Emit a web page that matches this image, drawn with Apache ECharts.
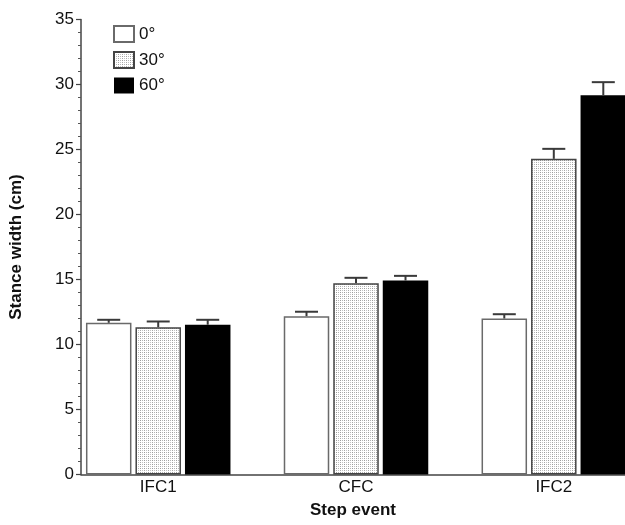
<!DOCTYPE html>
<html><head><meta charset="utf-8">
<script src="https://cdn.jsdelivr.net/npm/echarts@6/dist/echarts.min.js"></script>
<style>html,body{margin:0;padding:0;background:#fff}#c{width:625px;height:525px}</style>
</head><body><div id="c"></div>
<script>
const categories = ['IFC1', 'CFC', 'IFC2'];
const seriesNames = ['0°', '30°', '60°'];
const mean0 = [11.67, 12.18, 12.0];
const mean30 = [11.33, 14.72, 24.28];
const mean60 = [11.52, 14.92, 29.18];
const err0 = [0.23, 0.34, 0.33];
const err30 = [0.44, 0.41, 0.77];
const err60 = [0.38, 0.36, 1.0];
const yTicks = [0, 5, 10, 15, 20, 25, 30, 35];

const FONT = '"Liberation Sans", Arial, Helvetica, sans-serif';
const BAR_W = 45.5, BAR_STEP = 49.5;

function makeDots() {
  const c = document.createElement('canvas');
  c.width = 4; c.height = 4;
  const g = c.getContext('2d');
  g.fillStyle = '#ffffff'; g.fillRect(0, 0, 4, 4);
  g.fillStyle = '#9c9c9c'; g.fillRect(0, 0, 1, 1);
  g.fillStyle = '#b4b4b4'; g.fillRect(2, 0, 1, 1);
  g.fillStyle = '#a8a8a8'; g.fillRect(0, 2, 1, 1);
  g.fillStyle = '#c4c4c4'; g.fillRect(2, 2, 1, 1);
  return c;
}
const dots = { image: makeDots(), repeat: 'repeat' };

const means = [mean0, mean30, mean60];
const errs = [err0, err30, err60];
const styles = [
  { color: '#ffffff', borderColor: '#6a6a6a', borderWidth: 1.5 },
  { color: dots, borderColor: '#444444', borderWidth: 1.5 },
  { color: '#000000', borderColor: '#000000', borderWidth: 0 }
];

const barSeries = seriesNames.map((name, s) => ({
  name: name,
  type: 'bar',
  barWidth: BAR_W,
  barGap: ((BAR_STEP - BAR_W) / BAR_W * 100).toFixed(1) + '%',
  itemStyle: styles[s],
  data: means[s].map((v, i) => [i, v]),
  z: 2
}));

const errData = [];
means.forEach((m, s) => m.forEach((v, i) => errData.push([i, v, errs[s][i], s])));

const errSeries = {
  type: 'custom',
  silent: true,
  z: 3,
  clip: false,
  data: errData,
  renderItem: function (params, api) {
    const x = api.value(0), m = api.value(1), e = api.value(2), s = api.value(3);
    const base = api.coord([x, m]);
    const top = api.coord([x, m + e]);
    const dx = (s - 1) * BAR_STEP;
    const cx = base[0] + dx;
    const st = { stroke: '#3a3a3a', lineWidth: 2 };
    return {
      type: 'group',
      children: [
        { type: 'line', shape: { x1: cx, y1: base[1], x2: cx, y2: top[1] }, style: st },
        { type: 'line', shape: { x1: cx - 11.5, y1: top[1], x2: cx + 11.5, y2: top[1] }, style: st }
      ]
    };
  }
};

const chart = echarts.init(document.getElementById('c'), null, { renderer: 'canvas' });
chart.setOption({
  animation: false,
  backgroundColor: '#ffffff',
  textStyle: { fontFamily: FONT },
  grid: { left: 79, top: 19.5, right: 0, bottom: 50.5 },
  legend: {
    data: seriesNames,
    orient: 'vertical',
    left: 113, top: 25, padding: 0,
    itemWidth: 20, itemHeight: 16, itemGap: 8, itemTextGap: 3,
    icon: 'rect',
    textStyle: { fontFamily: FONT, fontSize: 17, color: '#111', lineHeight: 16 }
  },
  xAxis: {
    type: 'value',
    min: -0.3904, max: 2.360,
    name: 'Step event',
    nameLocation: 'middle',
    nameGap: 27,
    nameTextStyle: { fontFamily: FONT, fontSize: 17, fontWeight: 'bold', color: '#111' },
    axisLine: { show: true, onZero: false, lineStyle: { color: '#444', width: 1.5 } },
    axisTick: { show: false },
    splitLine: { show: false },
    axisLabel: {
      customValues: categories.map((c, i) => i),
      formatter: v => categories[Math.round(v)] || '',
      fontFamily: FONT, fontSize: 17, color: '#111', margin: 4
    }
  },
  yAxis: {
    type: 'value',
    min: yTicks[0], max: yTicks[yTicks.length - 1], interval: yTicks[1] - yTicks[0],
    name: 'Stance width (cm)',
    nameLocation: 'middle',
    nameGap: 56,
    nameTextStyle: { fontFamily: FONT, fontSize: 17, fontWeight: 'bold', color: '#111' },
    axisLine: { show: true, onZero: false, lineStyle: { color: '#444', width: 1.5 } },
    axisTick: { show: true, length: 5, lineStyle: { color: '#444', width: 1.2 } },
    minorTick: { show: true, splitNumber: 5, length: 3, lineStyle: { color: '#555', width: 1 } },
    splitLine: { show: false },
    axisLabel: { fontFamily: FONT, fontSize: 17, color: '#111', margin: 7 }
  },
  series: barSeries.concat([errSeries])
});
</script>
</body></html>
